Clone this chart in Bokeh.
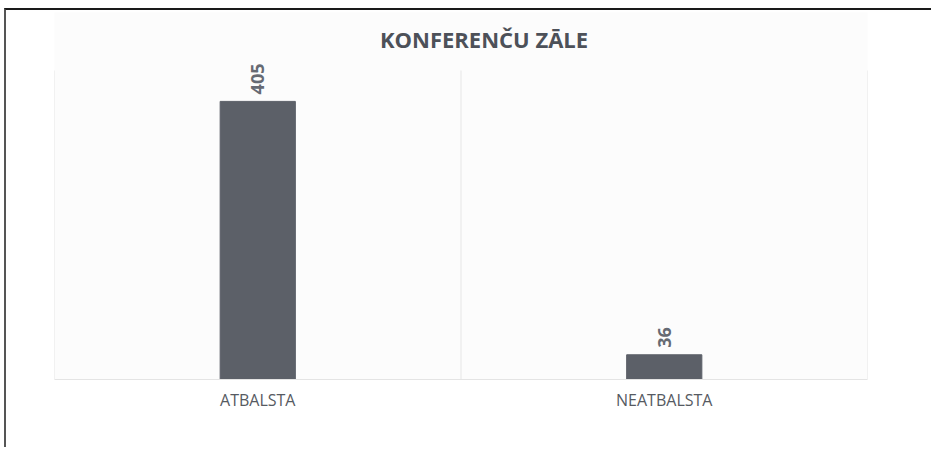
import math
from bokeh.plotting import figure
from bokeh.models import ColumnDataSource, FixedTicker, Range1d, LabelSet, Label
from bokeh.core.properties import value
from bokeh.embed import file_html
from bokeh.resources import INLINE

title_text = "KONFERENČU ZĀLE"
categories = ["ATBALSTA", "NEATBALSTA"]
votes = [405, 36]
y_max = 450

# layout (pixels)
W, H = 927, 439
border_left, border_right, border_top, border_bottom = 48, 66, 2, 70
plot_area_h = 309          # height of the gridded value area
frame_h = H - border_top - border_bottom
y_top = y_max * frame_h / plot_area_h

xs = [i + 0.5 for i in range(len(categories))]
bounds = list(range(len(categories) + 1))
src = ColumnDataSource(dict(x=xs, votes=votes, label=[str(v) for v in votes]))

p = figure(width=W, height=H, output_backend="svg", toolbar_location=None,
           x_range=Range1d(0, len(categories)), y_range=Range1d(0, y_top),
           min_border_left=border_left, min_border_right=border_right,
           min_border_top=border_top, min_border_bottom=border_bottom,
           background_fill_color="#fcfcfc", border_fill_color="white")
p.styles = {"position": "absolute", "left": "4px", "top": "8px",
            "border-top": "2px solid #1a1a1a", "border-left": "2px solid #555555"}

# grid lines at category boundaries, up to the value-axis maximum
p.segment(x0=bounds, y0=[0] * len(bounds), x1=bounds, y1=[y_max] * len(bounds),
          line_color="#e6e6e6", line_width=1)

p.vbar(x="x", top="votes", width=0.185, source=src, color="#5c6068")
labels = LabelSet(x="x", y="votes", text="label", angle=math.pi / 2, text_align="left",
                  text_baseline="middle", y_offset=7, text_font=value("Open Sans"),
                  text_font_style="bold", text_font_size="18px", text_color="#666a73", source=src)
p.add_layout(labels)

title = Label(x=len(categories) / 2, y=y_max, text=title_text, x_offset=23, y_offset=32,
              text_align="center", text_baseline="middle", text_font="Open Sans",
              text_font_style="bold", text_font_size="22px", text_color="#4d5159")
p.add_layout(title)

p.xaxis.ticker = FixedTicker(ticks=xs)
p.xaxis.major_label_overrides = {x: c for x, c in zip(xs, categories)}
p.xaxis.major_tick_line_color = None
p.xaxis.minor_tick_line_color = None
p.xaxis.axis_line_color = "#e4e4e4"
p.xaxis.major_label_standoff = 3
p.xaxis.major_label_text_font = "Open Sans"
p.xaxis.major_label_text_font_size = "16px"
p.xaxis.major_label_text_color = "#565a62"
p.yaxis.visible = False
p.grid.visible = False
p.outline_line_color = None

open("out.html", "w").write(file_html(p, INLINE))
